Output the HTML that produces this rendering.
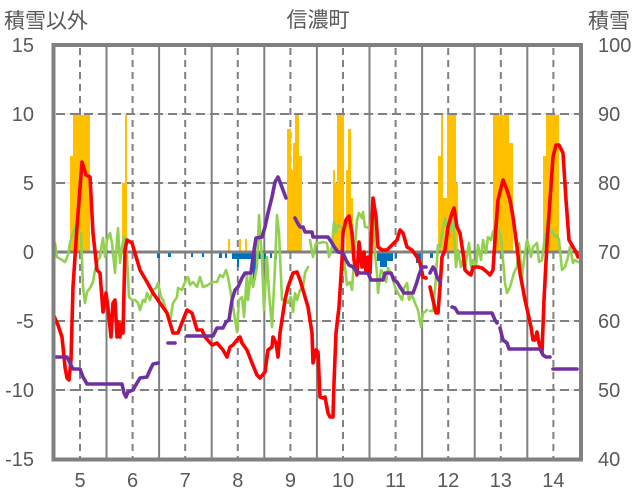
<!DOCTYPE html>
<html><head><meta charset="utf-8"><style>
html,body{margin:0;padding:0;background:#fff;}
svg{display:block;}
text{font-family:"Liberation Sans","Noto Sans CJK JP",sans-serif;fill:#595959;}
</style></head><body>
<svg width="636" height="501" viewBox="0 0 636 501" xmlns="http://www.w3.org/2000/svg">
<defs><clipPath id="pa"><rect x="55" y="47" width="524" height="411"/></clipPath></defs>
<rect width="636" height="501" fill="#fff"/>
<!-- titles -->
<text x="4" y="28" font-size="21">積雪以外</text>
<text x="318" y="27" font-size="21" text-anchor="middle">信濃町</text>
<text x="588" y="28" font-size="21">積雪</text>
<!-- light grid -->
<g stroke="#d9d9d9" stroke-width="1">
<line x1="54" y1="114" x2="581" y2="114"/><line x1="54" y1="183" x2="581" y2="183"/>
<line x1="54" y1="321" x2="581" y2="321"/><line x1="54" y1="390" x2="581" y2="390"/>
</g>
<!-- dashed horizontal -->
<g stroke="#808080" stroke-width="2" stroke-dasharray="9,5">
<line x1="56" y1="114" x2="580" y2="114"/><line x1="56" y1="183" x2="580" y2="183"/>
<line x1="56" y1="321" x2="580" y2="321"/><line x1="56" y1="390" x2="580" y2="390"/>
</g>
<!-- vertical solid -->
<g stroke="#808080" stroke-width="2">
<line x1="106.5" y1="45" x2="106.5" y2="459"/><line x1="159.1" y1="45" x2="159.1" y2="459"/>
<line x1="211.7" y1="45" x2="211.7" y2="459"/><line x1="264.3" y1="45" x2="264.3" y2="459"/>
<line x1="316.9" y1="45" x2="316.9" y2="459"/><line x1="369.5" y1="45" x2="369.5" y2="459"/>
<line x1="422.1" y1="45" x2="422.1" y2="459"/><line x1="474.7" y1="45" x2="474.7" y2="459"/>
<line x1="527.3" y1="45" x2="527.3" y2="459"/>
</g>
<!-- vertical dashed -->
<g stroke="#808080" stroke-width="2" stroke-dasharray="7,5">
<line x1="80" y1="48" x2="80" y2="459"/><line x1="132.6" y1="48" x2="132.6" y2="459"/>
<line x1="185.2" y1="48" x2="185.2" y2="459"/><line x1="237.8" y1="48" x2="237.8" y2="459"/>
<line x1="290.4" y1="48" x2="290.4" y2="459"/><line x1="343" y1="48" x2="343" y2="459"/>
<line x1="395.6" y1="48" x2="395.6" y2="459"/><line x1="448.2" y1="48" x2="448.2" y2="459"/>
<line x1="500.8" y1="48" x2="500.8" y2="459"/><line x1="553.4" y1="48" x2="553.4" y2="459"/>
</g>
<!-- orange bars -->
<g fill="#ffc000">
<rect x="70" y="156" width="3" height="96"/><rect x="73" y="115" width="17" height="137"/>
<rect x="122" y="183" width="3" height="69"/><rect x="125" y="115" width="2" height="137"/>
<rect x="228" y="239" width="2" height="13"/><rect x="239" y="239" width="2" height="13"/><rect x="245" y="239" width="2" height="13"/>
<rect x="287" y="129" width="4" height="123"/><rect x="291" y="170" width="2" height="82"/><rect x="293" y="143" width="2" height="109"/>
<rect x="295" y="115" width="4" height="137"/><rect x="299" y="156" width="3" height="96"/>
<rect x="333" y="170" width="2" height="82"/><rect x="335" y="183" width="2" height="69"/><rect x="337" y="115" width="7" height="137"/>
<rect x="346" y="170" width="2" height="82"/><rect x="348" y="129" width="3" height="123"/><rect x="351" y="198" width="2" height="54"/>
<rect x="438" y="156" width="3" height="96"/><rect x="441" y="115" width="2" height="137"/><rect x="443" y="198" width="4" height="54"/>
<rect x="447" y="115" width="9" height="137"/><rect x="456" y="183" width="2" height="69"/>
<rect x="493" y="115" width="16" height="137"/><rect x="509" y="143" width="4" height="109"/>
<rect x="543" y="156" width="3" height="96"/><rect x="546" y="115" width="13" height="137"/>
</g>
<!-- blue bars -->
<g fill="#0070c0">
<rect x="157" y="252" width="3" height="6"/><rect x="168" y="252" width="3" height="5"/>
<rect x="191" y="252" width="2" height="5"/><rect x="202" y="252" width="2" height="5"/>
<rect x="219" y="252" width="3" height="6"/><rect x="225" y="252" width="2" height="6"/>
<rect x="232" y="252" width="5" height="7"/><rect x="237" y="252" width="2" height="15"/>
<rect x="239" y="252" width="14" height="7"/><rect x="253" y="252" width="3" height="28"/>
<rect x="256" y="252" width="6" height="7"/><rect x="264" y="252" width="2" height="7"/>
<rect x="270" y="252" width="2" height="6"/><rect x="275" y="252" width="2" height="7"/>
<rect x="377" y="252" width="16" height="9"/><rect x="380" y="252" width="7" height="15"/>
<rect x="395" y="252" width="2" height="6"/><rect x="416" y="252" width="5" height="11"/>
<rect x="430" y="252" width="3" height="6"/>
</g>
<!-- zero line -->
<line x1="54" y1="252" x2="581" y2="252" stroke="#808080" stroke-width="3"/>
<g clip-path="url(#pa)" fill="none" stroke-linejoin="round" stroke-linecap="round">
<!-- green -->
<polyline stroke="#92d050" stroke-width="2.6" points="53,267 55,243 57,257 62,260 65,262 68,255 70,243 73,233 76,225 78,233 81,233 83,287 85,303 87,292 90,288 93,282 95,270 98,260 100,257 102,243 103,238 105,257 107,240 110,233 112,243 115,273 117,240 118,228 120,263 122,247 124,237 127,257 129,297 132,300 135,300 138,303 140,310 143,300 145,302 147,293 150,300 153,290 156,288 158,283 161,297 163,300 167,313 170,322 173,303 177,297 178,288 182,290 185,282 188,277 190,285 193,282 197,287 200,277 203,287 208,285 212,282 217,282 220,275 223,277 226,270 228,277 232,300 234,313 237,332 239,300 242,297 244,317 247,273 248,300 251,273 253,287 257,267 259,215 262,260 264,310 267,257 269,293 272,327 275,267 277,215 279,233 282,300 285,300 288,303 291,297 293,312 295,293 297,300 300,290 303,287 305,273 308,267"/>
<polyline stroke="#92d050" stroke-width="2.6" points="310,240 313,257 316,243 320,243 323,242 327,243 329,257 332,247 334,222 336,232 338,225 342,228 343,247 345,267 347,285 350,282 352,290 354,260 357,220 359,213 362,218 363,212 365,227 367,227 370,230 373,210 375,253 377,273 378,293 381,270 383,273 386,282 388,268 392,277 395,287 398,293 402,300 404,288 407,283 409,300 412,295 415,303 418,310 421,327 423,313 425,312 427,310"/>
<polyline stroke="#92d050" stroke-width="2.6" points="430,311 433,311 435,290 437,260 438,245 440,247 443,227 445,218 447,227 449,223 451,230 453,212 454,233 456,267 458,250 461,267 463,260 465,270 467,255 469,243 471,267 473,260 476,267 478,245 481,260 483,240 486,253 488,237 491,240 493,232 496,225 498,227 501,237 503,260 505,283 507,293 510,287 512,280 514,273 517,267 519,243 522,277 524,260 527,240 529,247 531,257 533,247 537,243 539,262 542,260 544,243 546,230 548,218 550,233 552,230 555,237 557,235 559,240 562,270 565,267 568,257 570,247 573,263 575,260 578,262"/>
<!-- red -->
<polyline stroke="#ff0000" stroke-width="3.6" points="54,316 58,325 62,337 65,367 67,378 69,380 71,360 73,287 77,227 82,162 86,175 90,177 93,233 97,270 100,273 103,312 106,293 108,308 111,337 113,303 115,300 117,337 118,322 120,337 122,323 123,333 125,250 127,240 132,243 140,270 147,282 153,293 160,303 167,313 173,333 178,333 183,320 187,310 192,313 197,330 202,330 205,337 212,345 217,343 223,350 227,357 230,347 233,345 237,340 240,337 242,343 247,350 252,363 257,375 260,378 265,372 268,350 272,347 273,337 276,343 278,357 280,333 285,300 288,287 293,273 297,272 300,280 303,290 308,307 312,333 313,363 316,350 318,352 320,397 323,398 325,397 328,413 330,417 333,417 334,383 336,333 339,307 342,260 343,233 346,220 349,216 352,233 354,260 357,275 359,242 362,267 364,252 366,273 368,257 370,273 373,198 376,217 378,247 382,250 387,250 392,245 397,240 400,230 403,233 407,247 412,250 417,257 420,263 423,277 426,278"/>
<polyline stroke="#ff0000" stroke-width="3.6" points="430,287 433,300 436,313 438,313 440,287 442,257 445,250 448,227 452,213 454,208 457,227 460,233 463,253 465,270 468,273 471,275 473,267 478,267 482,268 487,272 490,275 493,270 495,240 498,200 503,180 507,190 510,200 513,217 517,247 520,273 525,300 528,313 531,327 533,340 535,340 537,332 539,343 542,353 544,300 547,243 550,200 553,157 556,145 559,145 563,153 566,200 569,240 573,247 576,252 578,257"/>
<!-- purple -->
<g stroke="#7030a0" stroke-width="3.6">
<polyline points="53,357 67,357 70,363 73,369 80,369 83,377 87,384 122,384 124,393 126,397 128,392 133,390 137,383 140,378 147,377 150,370 153,364 158,363"/>
<polyline points="168,343 175,343"/>
<polyline points="187,336 213,336 217,328 223,328 226,322 229,320 232,300 235,290 238,287 242,278 245,273 251,273 253,257 256,238 262,237 265,227 268,213 272,197 275,182 278,177 280,182 283,190 286,198"/>
<polyline points="295,218 297,222 300,227 303,227 305,232 312,232 313,237 328,237 332,243 335,248 338,252 343,253 346,260 349,265 353,267 357,272 360,273 368,273 371,280 383,280 385,273 391,273 394,280 397,282 400,287 404,293 413,293 416,285 419,275 422,267 426,267"/>
<polyline points="430,273 433,267 435,270 437,277 440,282"/>
<polyline points="452,307 455,308 458,313 492,313 495,320 497,323"/>
<polyline points="500,328 503,340 507,343 509,349 540,349 543,355 546,357 550,357"/>
<polyline points="553,369 577,369"/>
</g>
</g>
<!-- frame -->
<rect x="53.5" y="45" width="527.5" height="414.5" fill="none" stroke="#808080" stroke-width="4"/>
<!-- left axis labels -->
<g font-size="20" text-anchor="end">
<text x="34" y="52">15</text><text x="34" y="121">10</text><text x="34" y="190">5</text>
<text x="34" y="259">0</text><text x="34" y="328">-5</text><text x="34" y="397">-10</text><text x="34" y="466">-15</text>
</g>
<!-- right axis labels -->
<g font-size="20">
<text x="598" y="52">100</text><text x="598" y="121">90</text><text x="598" y="190">80</text>
<text x="598" y="259">70</text><text x="598" y="328">60</text><text x="598" y="397">50</text><text x="598" y="466">40</text>
</g>
<!-- x labels -->
<g font-size="20" text-anchor="middle">
<text x="80" y="487">5</text><text x="132.6" y="487">6</text><text x="185.2" y="487">7</text>
<text x="237.8" y="487">8</text><text x="290.4" y="487">9</text><text x="343" y="487">10</text>
<text x="395.6" y="487">11</text><text x="448.2" y="487">12</text><text x="500.8" y="487">13</text>
<text x="553.4" y="487">14</text>
</g>
</svg>
</body></html>
